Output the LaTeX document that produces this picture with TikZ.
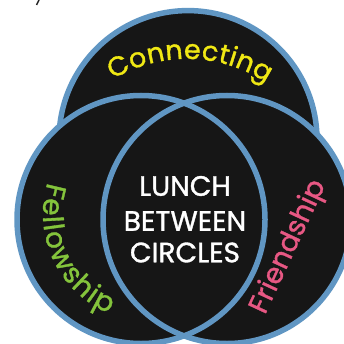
\documentclass[tikz,border=0pt]{standalone}
\usepackage{fontspec}
\setmainfont{Poppins}
\newfontfamily\chalkfont{Poppins}[FakeBold=1.2]
\usetikzlibrary{decorations.text}
\definecolor{ringblue}{RGB}{96,150,195}
\definecolor{boardblack}{RGB}{22,22,22}
\definecolor{chalkyellow}{RGB}{240,232,20}
\definecolor{chalkgreen}{RGB}{132,196,60}
\definecolor{chalkpink}{RGB}{232,88,132}
\begin{document}
\begin{tikzpicture}[x=1pt,y=1pt,
  ringline/.style={draw=ringblue, line width=5.5pt},
  ringfill/.style={fill=boardblack},
  centertext/.style={text=white, font=\chalkfont\fontsize{28}{28}\selectfont, inner sep=0pt}]
\useasboundingbox (0,0) rectangle (344,343);
\clip (0,0) rectangle (344,343);
% small mark at top left
\draw[black!85, line width=1.4pt] (39,343) -- (36.5,338);
% top circle
\path[ringfill, ringline] (188,203.4) circle[radius=129pt];
% lower circles: fills first, then outlines
\path[ringfill] (141,123.5) circle[radius=124pt];
\path[ringfill] (227,123.5) circle[radius=124pt];
\path[ringline] (141,123.5) circle[radius=124pt];
\path[ringline] (227,123.5) circle[radius=124pt];
% centre text
\node[centertext] (lunch) at (185,157) {LUNCH};
\node[centertext] (between) at (185,122) {BETWEEN};
\node[centertext] (circles) at (185,90.5) {CIRCLES};
% curved labels
\path[decorate, decoration={text along path, text align=fit to path,
  text={|\chalkfont\fontsize{27}{27}\selectfont\color{chalkyellow}|Connecting}}]
  ([shift={(121:143.6pt)}]187,140.5) arc[start angle=121, end angle=56.5, radius=143.6pt];
\path[decorate, decoration={text along path, text align=fit to path,
  text={|\chalkfont\fontsize{28}{28}\selectfont\color{chalkgreen}|Fellowship}}]
  ([shift={(163:108pt)}]151,129) arc[start angle=163, end angle=247, radius=108pt];
\path[decorate, decoration={text along path, text align=fit to path,
  text={|\chalkfont\fontsize{28}{28}\selectfont\color{chalkpink}|Friendship}}]
  (265,27.8) -- (324.6,156.1);
\end{tikzpicture}
\end{document}
